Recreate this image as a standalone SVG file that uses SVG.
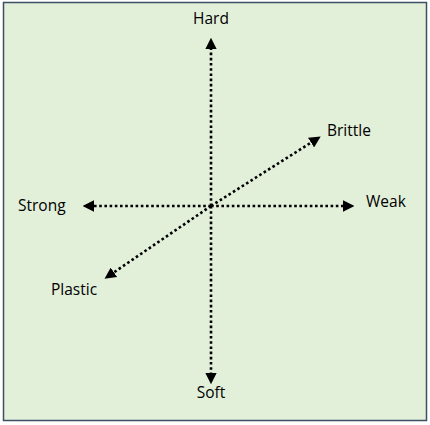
<svg xmlns="http://www.w3.org/2000/svg" width="430" height="425" viewBox="0 0 430 425">
<style>
.ax{stroke:#000;stroke-width:2.6;stroke-dasharray:2.6 2.6;fill:none}
.lbl{font-family:"Open Sans","Liberation Sans",sans-serif;font-size:15.5px;fill:#000}
</style>
<defs>
<marker id="ah" viewBox="0 0 10 10" refX="1" refY="5" markerWidth="4.4" markerHeight="4.4" orient="auto" markerUnits="strokeWidth">
<path d="M0,0 L10,5 L0,10 z" fill="#000"/>
</marker>
</defs>
<rect x="3.5" y="2.5" width="423" height="418" fill="#E2EFD9" stroke="#3D4F66" stroke-width="1.5"/>
<g id="connectors">
<line class="ax" x1="211" y1="206" x2="211" y2="48" marker-end="url(#ah)"/>
<line class="ax" x1="211" y1="206" x2="211" y2="374" marker-end="url(#ah)"/>
<line class="ax" x1="211" y1="206" x2="93" y2="206" marker-end="url(#ah)"/>
<line class="ax" x1="211" y1="206" x2="344" y2="206" marker-end="url(#ah)"/>
<line class="ax" x1="211" y1="206" x2="312" y2="142" marker-end="url(#ah)"/>
<line class="ax" x1="211" y1="206" x2="113" y2="273" marker-end="url(#ah)"/>
</g>
<g id="hard"><text class="lbl" x="211" y="24" text-anchor="middle">Hard</text></g>
<g id="soft"><text class="lbl" x="211" y="398" text-anchor="middle">Soft</text></g>
<g id="strong"><text class="lbl" x="18" y="211">Strong</text></g>
<g id="weak"><text class="lbl" x="366" y="207">Weak</text></g>
<g id="brittle"><text class="lbl" x="327" y="136">Brittle</text></g>
<g id="plastic"><text class="lbl" x="51" y="295">Plastic</text></g>
</svg>
